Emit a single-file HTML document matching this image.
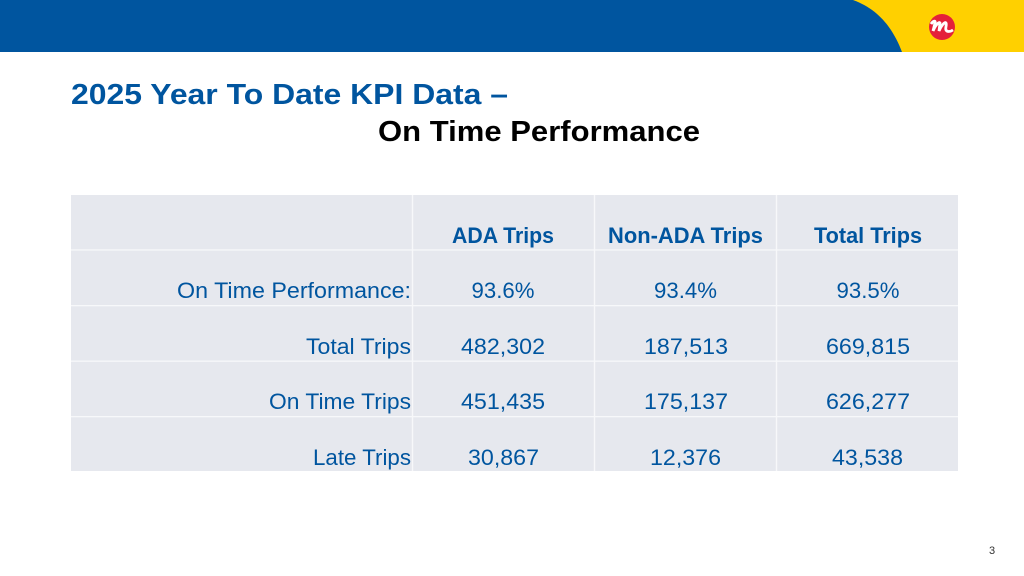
<!DOCTYPE html>
<html lang="en">
<head>
<meta charset="utf-8">
<title>2025 Year To Date KPI Data</title>
<style>
html,body{margin:0;padding:0;background:#fff;width:1024px;height:576px;overflow:hidden}
svg{display:block;font-family:"Liberation Sans",sans-serif}
.c{fill:#00559f;font-size:22.5px}
.h{fill:#00559f;font-size:22.5px;font-weight:bold}
.t{font-size:29px;font-weight:bold}
</style>
</head>
<body>
<svg width="1024" height="576" viewBox="0 0 1024 576">
  <rect x="0" y="0" width="1024" height="576" fill="#ffffff"/>
  <rect x="0" y="0" width="1024" height="52" fill="#ffd000"/>
  <path d="M0 0H853C878 9 893 28 902 52H0Z" fill="#00559f"/>
  <circle cx="942" cy="27" r="13" fill="#e4203a"/>
  <path d="M931 24c2-3 5-4 4-1l-2 8c2-5 6-10 7-8l-1 8c2-5 6-10 7-8 1 2-1 5 0 7 1 2 4 2 7 0" fill="none" stroke="#ffffff" stroke-width="2.8"/>

  <text class="t" x="71" y="104" fill="#00559f" textLength="437" lengthAdjust="spacingAndGlyphs">2025 Year To Date KPI Data –</text>
  <text class="t" x="378" y="141" fill="#000000" textLength="322" lengthAdjust="spacingAndGlyphs">On Time Performance</text>

  <g>
    <rect x="71" y="195" width="887" height="276" fill="#e6e8ee"/>
    <g fill="#f7f8fa">
      <rect x="71" y="249.3" width="887" height="1.3"/>
      <rect x="71" y="305" width="887" height="1.3"/>
      <rect x="71" y="360.5" width="887" height="1.3"/>
      <rect x="71" y="416" width="887" height="1.3"/>
      <rect x="411.8" y="195" width="1.4" height="276"/>
      <rect x="593.8" y="195" width="1.4" height="276"/>
      <rect x="775.8" y="195" width="1.4" height="276"/>
    </g>

    <g>
      <text class="h" x="452" y="243" textLength="102" lengthAdjust="spacingAndGlyphs">ADA Trips</text>
      <text class="h" x="608" y="243" textLength="155" lengthAdjust="spacingAndGlyphs">Non-ADA Trips</text>
      <text class="h" x="814" y="243" textLength="108" lengthAdjust="spacingAndGlyphs">Total Trips</text>
    </g>

    <g>
      <text class="c" x="177" y="298" textLength="234" lengthAdjust="spacingAndGlyphs">On Time Performance:</text>
      <text class="c" x="471.5" y="298" textLength="63" lengthAdjust="spacingAndGlyphs">93.6%</text>
      <text class="c" x="654" y="298" textLength="63" lengthAdjust="spacingAndGlyphs">93.4%</text>
      <text class="c" x="836.5" y="298" textLength="63" lengthAdjust="spacingAndGlyphs">93.5%</text>
    </g>

    <g>
      <text class="c" x="306" y="354" textLength="105" lengthAdjust="spacingAndGlyphs">Total Trips</text>
      <text class="c" x="461" y="354" textLength="84" lengthAdjust="spacingAndGlyphs">482,302</text>
      <text class="c" x="644" y="354" textLength="84" lengthAdjust="spacingAndGlyphs">187,513</text>
      <text class="c" x="826" y="354" textLength="84" lengthAdjust="spacingAndGlyphs">669,815</text>
    </g>

    <g>
      <text class="c" x="269" y="409" textLength="142" lengthAdjust="spacingAndGlyphs">On Time Trips</text>
      <text class="c" x="461" y="409" textLength="84" lengthAdjust="spacingAndGlyphs">451,435</text>
      <text class="c" x="644" y="409" textLength="84" lengthAdjust="spacingAndGlyphs">175,137</text>
      <text class="c" x="826" y="409" textLength="84" lengthAdjust="spacingAndGlyphs">626,277</text>
    </g>

    <g>
      <text class="c" x="313" y="465" textLength="98" lengthAdjust="spacingAndGlyphs">Late Trips</text>
      <text class="c" x="468" y="465" textLength="71" lengthAdjust="spacingAndGlyphs">30,867</text>
      <text class="c" x="650" y="465" textLength="71" lengthAdjust="spacingAndGlyphs">12,376</text>
      <text class="c" x="832" y="465" textLength="71" lengthAdjust="spacingAndGlyphs">43,538</text>
    </g>
  </g>

  <text x="989" y="554" font-size="11" fill="#333333">3</text>
</svg>
</body>
</html>
